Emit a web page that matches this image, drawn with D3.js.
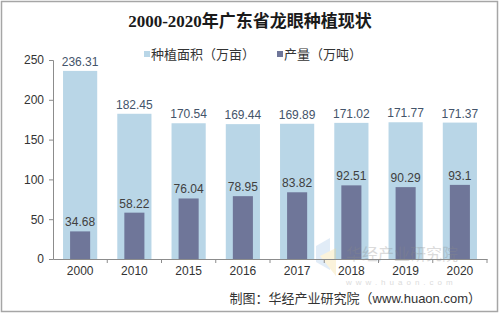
<!DOCTYPE html>
<html>
<head>
<meta charset="utf-8">
<script src="https://cdn.jsdelivr.net/npm/d3@7"></script>
<style>
  body { margin: 0; background: #fff; }
  text { font-family: "Liberation Sans", Arial, "Noto Sans CJK SC", sans-serif; }
</style>
</head>
<body>
<svg id="chart" width="500" height="314"></svg>
<script>
const years = ["2000", "2010", "2015", "2016", "2017", "2018", "2019", "2020"];
const area = [236.31, 182.45, 170.54, 169.44, 169.89, 171.02, 171.77, 171.37];
const output = [34.68, 58.22, 76.04, 78.95, 83.82, 92.51, 90.29, 93.1];
const yTicks = [0, 50, 100, 150, 200, 250];
const seriesNames = ["种植面积（万亩）", "产量（万吨）"];

const svg = d3.select("#chart");
const W = 500, H = 314;
const margin = { top: 60, right: 13, bottom: 55, left: 53 };
const colors = ["#b9d6e7", "#6f7699"];

// frame
svg.append("rect")
    .attr("x", 1.5).attr("y", 1.5)
    .attr("width", W - 4).attr("height", H - 4)
    .attr("fill", "#fff").attr("stroke", "#a6a6a6").attr("stroke-width", 1.5);

svg.append("text")
    .attr("x", 250).attr("y", 27)
    .attr("text-anchor", "middle")
    .style("font-family", "'Liberation Serif', 'Noto Sans CJK SC', serif")
    .style("font-weight", "bold")
    .style("font-size", "17px")
    .attr("fill", "#1a1a1a")
    .text("2000-2020年广东省龙眼种植现状");

const x = d3.scaleBand()
    .domain(years)
    .range([margin.left, W - margin.right])
    .padding(0);

const y = d3.scaleLinear()
    .domain([0, 250])
    .range([H - margin.bottom, margin.top]);

const bw = x.bandwidth();
const wideW = bw * 0.63;
const narrowW = bw * 0.37;

svg.append("g").selectAll("rect")
    .data(years)
    .join("rect")
    .attr("x", d => x(d) + (bw - wideW) / 2)
    .attr("y", (d, i) => y(area[i]))
    .attr("width", wideW)
    .attr("height", (d, i) => y(0) - y(area[i]))
    .attr("fill", colors[0]);

svg.append("g").selectAll("rect")
    .data(years)
    .join("rect")
    .attr("x", d => x(d) + (bw - narrowW) / 2)
    .attr("y", (d, i) => y(output[i]))
    .attr("width", narrowW)
    .attr("height", (d, i) => y(0) - y(output[i]))
    .attr("fill", colors[1]);

svg.append("g").selectAll("text")
    .data(years)
    .join("text")
    .attr("x", d => x(d) + bw / 2)
    .attr("y", (d, i) => y(area[i]) - 5)
    .attr("text-anchor", "middle")
    .style("font-size", "12px")
    .attr("fill", "#44546a")
    .text((d, i) => area[i]);

svg.append("g").selectAll("text")
    .data(years)
    .join("text")
    .attr("x", d => x(d) + bw / 2)
    .attr("y", (d, i) => y(output[i]) - 5)
    .attr("text-anchor", "middle")
    .style("font-size", "12px")
    .attr("fill", "#404040")
    .text((d, i) => output[i]);

// watermark, drawn over the bars
const wm = svg.append("g").attr("opacity", 0.3);
wm.append("path")
    .attr("d", "M316,246 L330,238 L330,270 L316,262 Z")
    .attr("fill", "#9ec3e8");
wm.append("path")
    .attr("d", "M320,256 L336,248 L336,276 Z")
    .attr("fill", "#f5d88a");
wm.append("text")
    .attr("x", 346).attr("y", 260)
    .style("font-size", "16px")
    .attr("fill", "#8a8a8a")
    .text("华经产业研究院");
wm.append("text")
    .attr("x", 346).attr("y", 285)
    .style("font-size", "8px")
    .style("letter-spacing", "4px")
    .attr("fill", "#8a8a8a")
    .text("www.huaon.com");

// y axis
const yAxis = svg.append("g")
    .attr("transform", `translate(${margin.left},0)`)
    .call(d3.axisLeft(y).tickValues(yTicks).tickSize(4).tickPadding(5));
yAxis.select(".domain").attr("stroke", "#8c8c8c");
yAxis.selectAll(".tick line").attr("stroke", "#8c8c8c");
yAxis.selectAll(".tick text").style("font-size", "12px").attr("fill", "#333");

// x axis
const xAxis = svg.append("g")
    .attr("transform", `translate(0,${y(0)})`)
    .call(d3.axisBottom(x).tickSize(0).tickPadding(7));
xAxis.select(".domain").attr("stroke", "#8c8c8c");
xAxis.selectAll(".tick text").style("font-size", "12px").attr("fill", "#333");
xAxis.selectAll(".sep")
    .data(years)
    .join("line")
    .attr("class", "sep")
    .attr("x1", d => x(d) + bw)
    .attr("x2", d => x(d) + bw)
    .attr("y1", 0).attr("y2", 4)
    .attr("stroke", "#8c8c8c");

// legend
const legendX = [144, 277];
const legend = svg.append("g").selectAll("g")
    .data(seriesNames)
    .join("g")
    .attr("transform", (d, i) => `translate(${legendX[i]},51)`);
legend.append("rect")
    .attr("width", 6).attr("height", 6)
    .attr("fill", (d, i) => colors[i]);
legend.append("text")
    .attr("x", 7).attr("y", 8)
    .style("font-size", "13px")
    .attr("fill", "#333")
    .text(d => d);

svg.append("text")
    .attr("x", 481).attr("y", 303)
    .attr("text-anchor", "end")
    .style("font-size", "13px")
    .attr("fill", "#333")
    .text("制图：华经产业研究院（www.huaon.com）");
</script>
</body>
</html>
